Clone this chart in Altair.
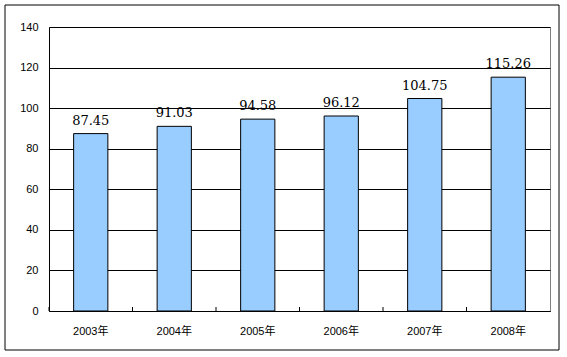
import altair as alt
import pandas as pd

years = ["2003年", "2004年", "2005年", "2006年", "2007年", "2008年"]
values = [87.45, 91.03, 94.58, 96.12, 104.75, 115.26]
y_ticks = [0, 20, 40, 60, 80, 100, 120, 140]

df = pd.DataFrame({"year": years, "value": values})

W, H = 501, 284
PAD_IN = 0.59
STEP = W / len(years)
GAP_HALF = STEP * PAD_IN / 2

xscale = alt.Scale(domain=years, paddingInner=PAD_IN, paddingOuter=PAD_IN / 2)
yscale = alt.Scale(domain=[0, 140], nice=False, zero=True)

base = alt.Chart(df)

bars = base.mark_bar(fill="#99CCFF", stroke="black", strokeWidth=1).encode(
    x=alt.X("year:N", scale=xscale, sort=years,
            axis=alt.Axis(title=None, labelAngle=0, ticks=False, domain=True,
                          domainColor="black", labelFont="Liberation Sans, Noto Sans CJK SC",
                          labelFontSize=11, labelColor="black", labelPadding=14)),
    y=alt.Y("value:Q", scale=yscale,
            axis=alt.Axis(title=None, values=y_ticks, grid=True, gridColor="black",
                          gridOpacity=1, ticks=False, domainColor="black",
                          labelFont="Liberation Sans", labelFontSize=11,
                          labelColor="black", labelPadding=11)),
)

labels = base.mark_text(font="DejaVu Serif", fontSize=13, color="black",
                        baseline="alphabetic", dy=-9).encode(
    x=alt.X("year:N", scale=xscale, sort=years),
    y=alt.Y("value:Q", scale=yscale),
    text=alt.Text("value:Q", format=".2f"),
)

ticks = base.mark_rule(color="black", strokeWidth=1).encode(
    x=alt.X("year:N", scale=xscale, sort=years, bandPosition=0),
    xOffset=alt.value(-GAP_HALF),
    y=alt.value(H - 4),
    y2=alt.value(H),
)

frame = alt.Chart(alt.Data(values=[{"a": 1}])).mark_rect(
    fill=None, stroke="black", strokeWidth=1
).encode(
    x=alt.value(-44), x2=alt.value(510), y=alt.value(-22), y2=alt.value(323)
)

chart = alt.layer(bars, labels, ticks, frame).properties(
    width=W, height=H,
    autosize=alt.AutoSizeParams(type="none"),
    padding={"left": 49, "top": 27, "right": 17, "bottom": 46},
    background="white",
).configure_view(stroke="#808080", strokeWidth=1)

chart.save("out.html", embed_options={"renderer": "svg", "actions": False})
